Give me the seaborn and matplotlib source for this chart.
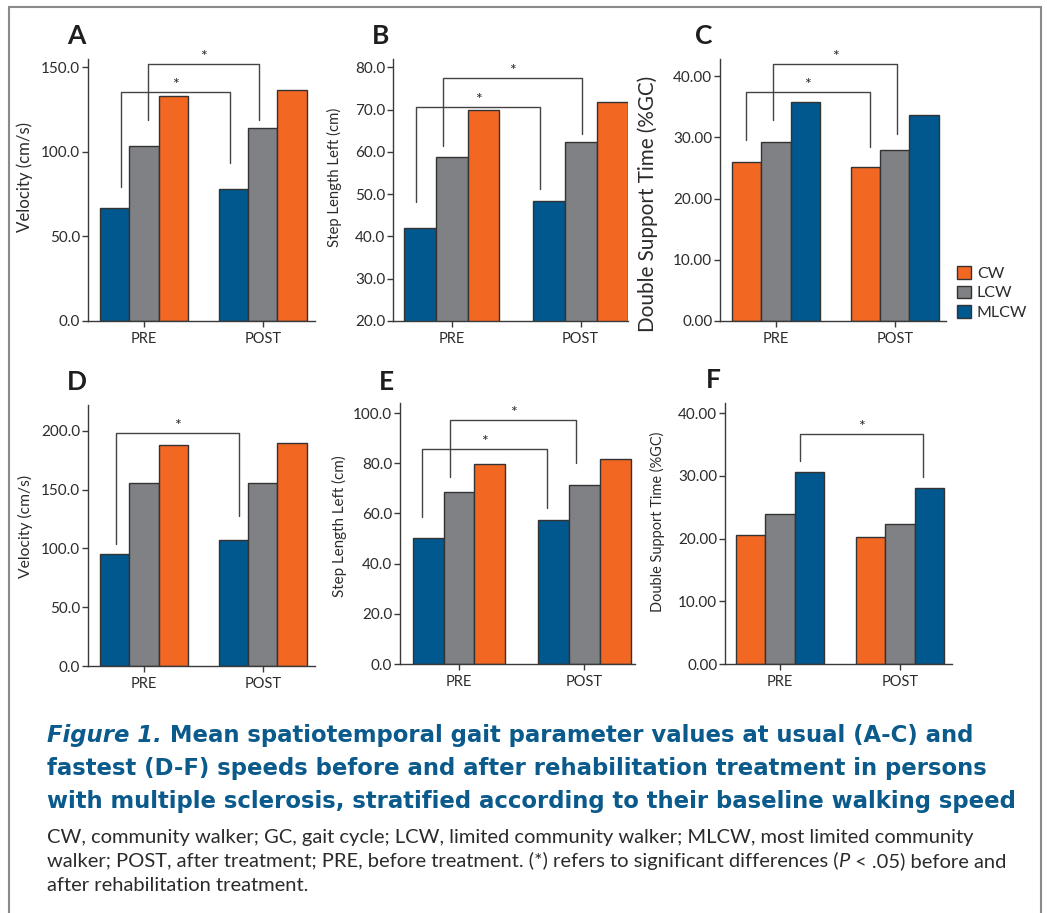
import matplotlib
matplotlib.use('Agg')
import matplotlib.pyplot as plt
import seaborn as sns
import pandas as pd
from matplotlib.patches import Patch, Rectangle
from matplotlib.lines import Line2D

sns.set_theme(style='white')
plt.rcParams['font.family'] = ['Lato', 'DejaVu Sans']

W, H = 1047, 913

# ---------------- data ----------------
times = ['PRE', 'POST']
groups = ['CW', 'LCW', 'MLCW']

# A: velocity, usual speed (cm/s)
A_MLCW = [66.8, 77.9]
A_LCW = [103.8, 114.4]
A_CW = [133.4, 136.8]
# B: step length left, usual speed (cm)
B_MLCW = [42.1, 48.3]
B_LCW = [58.7, 62.4]
B_CW = [69.9, 71.8]
# C: double support time, usual speed (%GC)
C_CW = [25.9, 25.15]
C_LCW = [29.2, 28.0]
C_MLCW = [35.7, 33.7]
# D: velocity, fastest speed (cm/s)
D_MLCW = [95.0, 107.2]
D_LCW = [155.7, 155.7]
D_CW = [188.1, 189.8]
# E: step length left, fastest speed (cm)
E_MLCW = [50.3, 57.4]
E_LCW = [68.5, 71.5]
E_CW = [79.7, 81.5]
# F: double support time, fastest speed (%GC)
F_CW = [20.6, 20.3]
F_LCW = [23.9, 22.3]
F_MLCW = [30.6, 28.0]

# significance brackets: (x_left, x_right, y_left_end, y_right_end, y_top)
A_brackets = [(-0.196, 0.729, 79.4, 93.3, 135.6), (0.036, 0.966, 119.0, 119.0, 152.0)]
B_brackets = [(-0.276, 0.685, 48.1, 51.2, 70.75), (-0.065, 1.008, 61.3, 64.3, 77.5)]
C_brackets = [(-0.256, 0.789, 29.5, 28.4, 37.4), (-0.022, 1.02, 32.8, 30.55, 41.95)]
D_brackets = [(-0.235, 0.804, 103.8, 127.9, 198.0)]
E_brackets = [(-0.293, 0.70, 58.4, 62.3, 85.7), (-0.072, 0.934, 74.6, 80.1, 97.1)]
F_brackets = [(0.164, 1.194, 32.3, 29.8, 36.7)]

vel_label = 'Velocity (cm/s)'
step_label = 'Step Length Left (cm)'
ds_label = 'Double Support Time (%GC)'

A_ticks = [0, 50, 100, 150]
B_ticks = [20, 30, 40, 50, 60, 70, 80]
C_ticks = [0, 10, 20, 30, 40]
D_ticks = [0, 50, 100, 150, 200]
E_ticks = [0, 20, 40, 60, 80, 100]
F_ticks = [0, 10, 20, 30, 40]

palette = {'CW': '#F26722', 'LCW': '#808184', 'MLCW': '#00588F'}
EDGE = '#333333'
TXT = '#2b2b2b'

fig = plt.figure(figsize=(W / 100, H / 100), dpi=100)
renderer = fig.canvas.get_renderer()


def box(l, r, t, b):
    return [l / W, 1 - b / H, (r - l) / W, (b - t) / H]


panels = [
    dict(letter='A', rect=box(88, 315, 59, 321), series={'MLCW': A_MLCW, 'LCW': A_LCW, 'CW': A_CW},
         order=['MLCW', 'LCW', 'CW'], ylim=(0, 155), xlim=(-0.47, 1.44), ticks=A_ticks, fmt='{:.1f}',
         ylabel=vel_label, lab=(33, 177), lablen=110, br=A_brackets, lpos=(67, 44)),
    dict(letter='B', rect=box(393, 628, 59, 321), series={'MLCW': B_MLCW, 'LCW': B_LCW, 'CW': B_CW},
         order=['MLCW', 'LCW', 'CW'], ylim=(20, 82), xlim=(-0.455, 1.367), ticks=B_ticks, fmt='{:.1f}',
         ylabel=step_label, lab=(342, 177), lablen=139, br=B_brackets, lpos=(372, 44)),
    dict(letter='C', rect=box(720, 946, 59, 321), series={'CW': C_CW, 'LCW': C_LCW, 'MLCW': C_MLCW},
         order=['CW', 'LCW', 'MLCW'], ylim=(0, 42.8), xlim=(-0.472, 1.432), ticks=C_ticks, fmt='{:.2f}',
         ylabel=ds_label, lab=(658, 204), lablen=257, br=C_brackets, lpos=(695, 44)),
    dict(letter='D', rect=box(88, 315, 405, 666), series={'MLCW': D_MLCW, 'LCW': D_LCW, 'CW': D_CW},
         order=['MLCW', 'LCW', 'CW'], ylim=(0, 222), xlim=(-0.47, 1.44), ticks=D_ticks, fmt='{:.1f}',
         ylabel=vel_label, lab=(33, 526), lablen=103, br=D_brackets, lpos=(67, 390)),
    dict(letter='E', rect=box(400, 635, 403, 664), series={'MLCW': E_MLCW, 'LCW': E_LCW, 'CW': E_CW},
         order=['MLCW', 'LCW', 'CW'], ylim=(0, 104), xlim=(-0.471, 1.405), ticks=E_ticks, fmt='{:.1f}',
         ylabel=step_label, lab=(347, 526), lablen=142, br=E_brackets, lpos=(379, 390)),
    dict(letter='F', rect=box(725, 952, 403, 664), series={'CW': F_CW, 'LCW': F_LCW, 'MLCW': F_MLCW},
         order=['CW', 'LCW', 'MLCW'], ylim=(0, 41.6), xlim=(-0.458, 1.433), ticks=F_ticks, fmt='{:.2f}',
         ylabel=ds_label, lab=(665, 522), lablen=181, br=F_brackets, lpos=(706, 388)),
]

for p in panels:
    ax = fig.add_axes(p['rect'])
    rows = []
    for g, vals in p['series'].items():
        for t, v in zip(times, vals):
            rows.append({'time': t, 'group': g, 'value': v})
    df = pd.DataFrame(rows)
    sns.barplot(data=df, x='time', y='value', hue='group', order=times, hue_order=p['order'],
                palette=palette, width=0.74, edgecolor=EDGE, linewidth=1.0, errorbar=None,
                ax=ax, legend=False, saturation=1)
    ax.set_xlim(*p['xlim'])
    ax.set_ylim(*p['ylim'])
    ax.set_yticks(p['ticks'])
    ax.set_yticklabels([p['fmt'].format(v) for v in p['ticks']])
    ax.set_xlabel('')
    ax.set_ylabel(p['ylabel'], fontsize=10, color=TXT)
    lab = ax.yaxis.label
    h = lab.get_window_extent(renderer=renderer).height
    lab.set_fontsize(10 * p['lablen'] / h)
    ax.yaxis.set_label_coords(p['lab'][0] / W, 1 - p['lab'][1] / H, transform=fig.transFigure)
    sns.despine(ax=ax)
    for s in ('left', 'bottom'):
        ax.spines[s].set_color('#3a3a3a')
        ax.spines[s].set_linewidth(1.0)
    ax.tick_params(axis='y', left=True, direction='out', length=4, width=1, color='#3a3a3a',
                   labelsize=11, labelcolor=TXT, pad=1.5)
    ax.tick_params(axis='x', bottom=True, direction='out', length=4, width=1, color='#3a3a3a',
                   labelsize=10.5, labelcolor=TXT, pad=4)
    ax.set_facecolor('white')
    for (xl, xr, yl, yr, yt) in p['br']:
        ax.add_line(Line2D([xl, xl, xr, xr], [yl, yt, yt, yr], color='#444444', lw=1.0, clip_on=False))
        ax.text((xl + xr) / 2, yt, '*', ha='center', va='bottom', fontsize=11.5, color=TXT,
                transform=ax.transData, clip_on=False)
    fig.text(p['lpos'][0] / W, 1 - p['lpos'][1] / H, p['letter'], fontsize=19, fontweight='bold',
             color='#1e1e1e', ha='left', va='baseline')

# legend
handles = [Patch(facecolor=palette[g], edgecolor=EDGE, linewidth=1, label=g) for g in groups]
fig.legend(handles=handles, loc='center left', bbox_to_anchor=(957 / W, 1 - 293 / H), frameon=False,
           fontsize=11.5, handlelength=0.85, handleheight=0.85, handletextpad=0.4, labelspacing=0.3,
           borderaxespad=0, borderpad=0, labelcolor=TXT)

# frame
fig.add_artist(Rectangle((9 / W, -0.02), (1041 - 9) / W, (913 - 7) / H + 0.02, transform=fig.transFigure,
                         fill=False, edgecolor='#8a8a8a', linewidth=1.5))


# caption
def line_width(pieces, size, **common):
    total = 0
    for txt, kw in pieces:
        t = fig.text(0, 0, txt, fontsize=size, **common, **kw)
        total += t.get_window_extent(renderer=renderer).width
        t.remove()
    return total


def draw_pieces(pieces, x_px, base_px, size, **common):
    x = x_px
    for txt, kw in pieces:
        t = fig.text(x / W, 1 - base_px / H, txt, ha='left', va='baseline', fontsize=size, **common, **kw)
        x = t.get_window_extent(renderer=renderer).x1


BLUE = '#0B5A8C'
title_style = dict(fontweight='bold', color=BLUE, family=['DejaVu Sans'])
title1 = [('Figure 1.', dict(fontstyle='italic')),
          (' Mean spatiotemporal gait parameter values at usual (A-C) and', {})]
title2 = [('fastest (D-F) speeds before and after rehabilitation treatment in persons', {})]
title3 = [('with multiple sclerosis, stratified according to their baseline walking speed', {})]
TS = 16 * 930 / line_width(title1, 16, **title_style)
draw_pieces(title1, 47, 742, TS, **title_style)
draw_pieces(title2, 47, 775, TS, **title_style)
draw_pieces(title3, 47, 808, TS, **title_style)

cap_style = dict(color=TXT)
cap1 = [('CW, community walker; GC, gait cycle; LCW, limited community walker; MLCW, most limited community', {})]
cap2 = [('walker; POST, after treatment; PRE, before treatment. (*) refers to significant differences (', {}),
        ('P', dict(fontstyle='italic')),
        (' < .05) before and', {})]
cap3 = [('after rehabilitation treatment.', {})]
CS = 13.5 * 930 / line_width(cap1, 13.5, **cap_style)
draw_pieces(cap1, 47, 843, CS, **cap_style)
draw_pieces(cap2, 47, 867, CS, **cap_style)
draw_pieces(cap3, 47, 891, CS, **cap_style)

fig.savefig('out.png', dpi=100, facecolor='white')
